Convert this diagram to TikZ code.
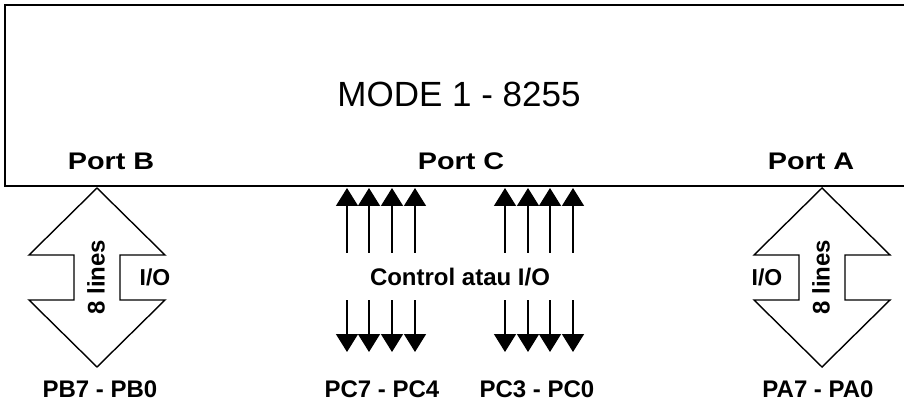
\documentclass[tikz,border=0pt]{standalone}
\usepackage{fontspec}
\setmainfont{Liberation Sans}
\usepackage{graphicx}
\usetikzlibrary{arrows.meta}
\begin{document}
\begin{tikzpicture}[x=1pt,y=-1pt,
  lbl/.style={font=\fontsize{24}{28}\selectfont\bfseries, inner sep=0pt},
  basel/.style={lbl, anchor=base},
  dbl/.style={draw=black, line width=1.4pt, line join=miter},
  sig/.style={line width=1.5pt, -{Triangle[width=22pt,length=18pt]}},
  chip/.style={line width=2.5pt},
  dblarr/.pic={\draw[dbl] (0,0) -- (68,67) -- (23,67) -- (23,112) -- (68,112) -- (0,179)
     -- (-68,112) -- (-23,112) -- (-23,67) -- (-68,67) -- cycle;}]
\useasboundingbox (0,0) rectangle (904,403);
\fill[white] (0,0) rectangle (904,403);
% chip box (open to the right)
\draw[chip] (908,5) -- (5,5) -- (5,186) -- (908,186);
\node[font=\fontsize{35}{40}\selectfont, anchor=base, inner sep=0pt] (title) at (459,107) {MODE 1 - 8255};
\node[basel] (pb) at (111,170) {\scalebox{1.2}[1]{Port B}};
\node[basel] (pc) at (461,170) {\scalebox{1.2}[1]{Port C}};
\node[basel] (pa) at (811,170) {\scalebox{1.2}[1]{Port A}};
% Port B double arrow
\pic at (97,188) {dblarr};
\node[lbl, rotate=90] (bl) at (96,277) {8 lines};
\node[lbl, font=\fontsize{23}{28}\selectfont\bfseries] (bio) at (155,277) {I/O};
\node[basel] (pbl) at (100,397) {PB7 - PB0};
% Port A double arrow
\pic at (822,188) {dblarr};
\node[lbl, rotate=90] (al) at (821,277) {8 lines};
\node[lbl, font=\fontsize{23}{28}\selectfont\bfseries] (aio) at (767,277) {I/O};
\node[basel] (pal) at (818,397) {PA7 - PA0};
% Port C signals
\foreach \i/\x in {1/347,2/369,3/392,4/415,5/505,6/528,7/550,8/573}{
  \coordinate (ut\i) at (\x,188);
  \coordinate (ub\i) at (\x,253);
  \coordinate (dt\i) at (\x,300);
  \coordinate (db\i) at (\x,352);
  \draw[sig] (ub\i) -- (ut\i);
  \draw[sig] (dt\i) -- (db\i);
}
\node[lbl] (ctl) at (460,277) {Control atau I/O};
\node[basel] (pch) at (382,397) {PC7 - PC4};
\node[basel] (pcl) at (537,397) {PC3 - PC0};
\end{tikzpicture}
\end{document}
